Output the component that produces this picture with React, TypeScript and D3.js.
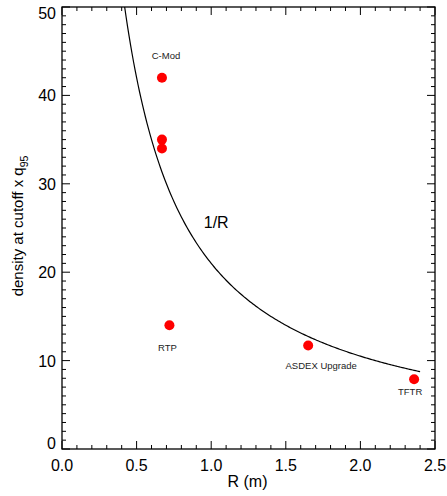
import React from "react";
import * as d3 from "d3";

const machines = ["C-Mod", "C-Mod", "C-Mod", "RTP", "ASDEX Upgrade", "TFTR"];
const radius = [0.67, 0.67, 0.67, 0.72, 1.65, 2.36];
const density = [42.0, 35.0, 34.0, 14.0, 11.7, 7.9];
const labelNames = ["C-Mod", "RTP", "ASDEX Upgrade", "TFTR"];
const labelIdx = [0, 3, 4, 5];
const curveK = 21;
const curveR = d3.range(0.40, 2.401, 0.01);
const xTicks = [0, 0.5, 1.0, 1.5, 2.0, 2.5];
const yTicks = [0, 10, 20, 30, 40, 50];

// label pixel offsets (style, not data)
const labelDx = [4, -2, 13, -4];
const labelDy = [-19, 26, 23, 16];

const W = 447, H = 496;
const L = 62, R = 435, T = 7, B = 449;

export default function App() {
  const x = d3.scaleLinear().domain([0, 2.5]).range([L, R]);
  const y = d3.scaleLinear().domain([0, 50]).range([B, T]);
  const line = d3.line<number>().x((r) => x(r)).y((r) => y(curveK / r));
  const xMinor = d3.range(0, 2.5001, 0.1);
  const yMinor = d3.range(0, 50.001, 1);
  const font = "Liberation Sans, Arial, sans-serif";
  return (
    <svg width={W} height={H} style={{ position: "absolute", left: 0, top: 0 }} fontFamily={font}>
      <rect width={W} height={H} fill="#fff" />
      <defs>
        <clipPath id="pc"><rect x={L} y={T} width={R - L} height={B - T} /></clipPath>
      </defs>
      <path d={line(curveR.filter((r) => curveK / r <= 52)) || ""} fill="none" stroke="#000" strokeWidth={1.2} clipPath="url(#pc)" />
      <g stroke="#000" strokeWidth={1}>
        {xMinor.map((v, i) => {
          const major = Math.abs(v * 2 - Math.round(v * 2)) < 1e-6;
          const len = major ? 8 : 4;
          return (
            <g key={"xt" + i}>
              <line x1={x(v)} x2={x(v)} y1={B} y2={B - len} />
              <line x1={x(v)} x2={x(v)} y1={T} y2={T + len} />
            </g>
          );
        })}
        {yMinor.map((v, i) => {
          const major = Math.round(v) % 10 === 0;
          const len = major ? 8 : 4;
          return (
            <g key={"yt" + i}>
              <line x1={L} x2={L + len} y1={y(v)} y2={y(v)} />
              <line x1={R} x2={R - len} y1={y(v)} y2={y(v)} />
            </g>
          );
        })}
      </g>
      <rect x={L} y={T} width={R - L} height={B - T} fill="none" stroke="#000" strokeWidth={1.3} />
      {xTicks.map((v) => (
        <text key={"xl" + v} x={x(v)} y={B + 22} textAnchor="middle" fontSize={16}>{v.toFixed(1)}</text>
      ))}
      {yTicks.map((v, i) => (
        <text key={"yl" + v} x={L - 6} y={y(v) + 6 + (i === 0 ? -6 : i === yTicks.length - 1 ? 6 : 0)} textAnchor="end" fontSize={16}>{v}</text>
      ))}
      <text x={(L + R) / 2 - 1} y={487} textAnchor="middle" fontSize={16}>R (m)</text>
      <text transform={`translate(23,226) rotate(-90)`} textAnchor="middle" fontSize={15}>
        density at cutoff x q<tspan fontSize={10.5} dy={5}>95</tspan>
      </text>
      <text x={x(0.95)} y={y(25)} fontSize={16}>1/R</text>
      {radius.map((r, i) => (
        <circle key={"p" + i} cx={x(r)} cy={y(density[i])} r={5} fill="#f00" />
      ))}
      {labelNames.map((n, j) => (
        <text key={"lb" + j} x={x(radius[labelIdx[j]]) + labelDx[j]} y={y(density[labelIdx[j]]) + labelDy[j]} textAnchor="middle" fontSize={9.5} fill="#222">{n}</text>
      ))}
    </svg>
  );
}
